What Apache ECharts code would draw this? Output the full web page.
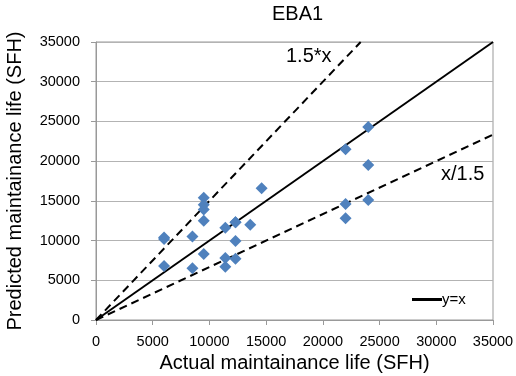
<!DOCTYPE html>
<html>
<head>
<meta charset="utf-8">
<script src="https://cdn.jsdelivr.net/npm/echarts@6/dist/echarts.min.js"></script>
<style>
 html, body { margin: 0; padding: 0; background: #fff; }
 #chart { width: 516px; height: 376px; }
</style>
</head>
<body>
<div id="chart"></div>
<script>
// actual vs predicted maintainance life (SFH)
const actual = [6000, 6000, 6000, 8500, 8500, 9500, 9500, 9500, 9500, 9500,
 11400, 11400, 11400, 12300, 12300, 12300, 12300, 13600, 14600,
 22000, 22000, 22000, 24000, 24000, 24000];
const predicted = [10200, 10400, 6800, 6500, 10500, 15400, 14500, 13900, 12500, 8300,
 11600, 7800, 6700, 12300, 9950, 7700, 12300, 12000, 16600,
 21500, 14600, 12800, 24300, 19500, 15100];

const refX = [0, 35000];
const upperEnd = [23333, 35000];
const lowerEnd = [35000, 23333];

const axisMax = 35000;
const step = 5000;

const points = actual.map((x, i) => [x, predicted[i]]);

const chart = echarts.init(document.getElementById('chart'), null, { renderer: 'canvas' });

const font = 'Liberation Sans, Arial, sans-serif';

chart.setOption({
 backgroundColor: '#fff',
 animation: false,
 title: {
  text: 'EBA1',
  left: 272,
  top: 4,
  padding: 0,
  textStyle: { fontFamily: font, fontSize: 20, fontWeight: 'normal', color: '#000' },
 },
 grid: {
  left: 96, right: 23, top: 42, bottom: 56,
  outerBoundsMode: 'none',
  containLabel: false,
  show: true, borderColor: '#999', borderWidth: 1,
 },
 legend: {
  data: [{ name: 'y=x', icon: 'rect' }],
  left: 412, top: 292, padding: 0,
  itemWidth: 30, itemHeight: 3, itemGap: 0,
  itemStyle: { color: '#000' },
  textStyle: { fontFamily: font, fontSize: 15, color: '#000', padding: [0, 0, 0, -5] },
 },
 xAxis: {
  type: 'value', min: 0, max: axisMax, interval: step,
  name: 'Actual maintainance life (SFH)',
  nameLocation: 'middle', nameGap: 33,
  nameTextStyle: { fontFamily: font, fontSize: 20, color: '#000' },
  axisLine: { show: true, lineStyle: { color: '#999' } },
  axisTick: { show: true, length: 5, lineStyle: { color: '#999' } },
  axisLabel: { fontFamily: font, fontSize: 14.5, color: '#000', margin: 14, formatter: (v) => String(v) },
  splitLine: { show: false },
 },
 yAxis: {
  type: 'value', min: 0, max: axisMax, interval: step,
  name: 'Predicted maintainance life (SFH)',
  nameLocation: 'middle', nameGap: 71,
  nameTextStyle: { fontFamily: font, fontSize: 20, color: '#000' },
  axisLine: { show: true, lineStyle: { color: '#999' } },
  axisTick: { show: true, length: 5, lineStyle: { color: '#999' } },
  axisLabel: { fontFamily: font, fontSize: 14.5, color: '#000', margin: 16, formatter: (v) => String(v) },
  splitLine: { show: true, lineStyle: { color: '#b3b3b3', width: 1 } },
 },
 graphic: [
  { type: 'text', left: 286, top: 46, style: { text: '1.5*x', font: '20px ' + font, fill: '#000' } },
  { type: 'text', left: 441, top: 164, style: { text: 'x/1.5', font: '20px ' + font, fill: '#000' } },
 ],
 series: [
  {
   name: '1.5*x', type: 'line', symbol: 'none', silent: true,
   data: [[0, 0], upperEnd],
   lineStyle: { color: '#000', width: 2, type: [8, 5] },
  },
  {
   name: 'x/1.5', type: 'line', symbol: 'none', silent: true,
   data: [[0, 0], lowerEnd],
   lineStyle: { color: '#000', width: 2, type: [8, 5] },
  },
  {
   name: 'y=x', type: 'line', symbol: 'none', silent: true,
   data: refX.map((v) => [v, v]),
   lineStyle: { color: '#000', width: 2 },
  },
  {
   name: 'data', type: 'scatter', symbol: 'diamond', symbolSize: 12,
   data: points,
   itemStyle: { color: '#4f81bd', opacity: 1 },
   z: 5,
  },
 ],
});
</script>
</body>
</html>
